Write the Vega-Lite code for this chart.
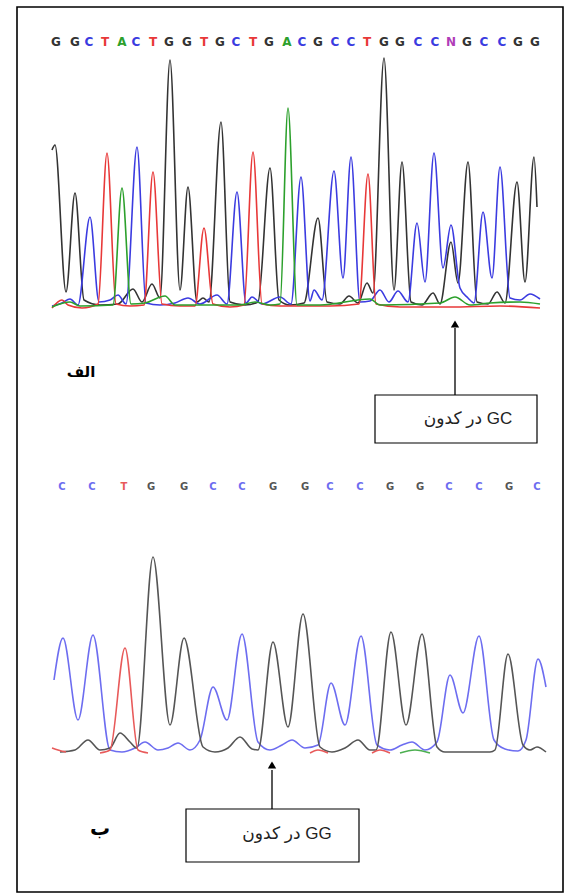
{
"$schema":"https://vega.github.io/schema/vega-lite/v6.json",
"width":570,"height":895,"padding":0,
"autosize":{"type":"fit","contains":"padding"},
"background":"white",
"config":{"view":{"stroke":null}},
"datasets":{
"frame":[{"x1":17,"y1":7,"x2":563,"y2":892}],
"traces":[
{"k":"G1","s":"G1","x":52,"y":150},{"k":"G1","s":"G1","x":55,"y":145},{"k":"G1","s":"G1","x":66,"y":292},{"k":"G1","s":"G1","x":75,"y":193},{"k":"G1","s":"G1","x":84,"y":300},{"k":"G1","s":"G1","x":100,"y":305},{"k":"G1","s":"G1","x":118,"y":304},{"k":"G1","s":"G1","x":133,"y":289},{"k":"G1","s":"G1","x":142,"y":302},{"k":"G1","s":"G1","x":152,"y":284},{"k":"G1","s":"G1","x":160,"y":298},{"k":"G1","s":"G1","x":170,"y":60},{"k":"G1","s":"G1","x":180,"y":290},{"k":"G1","s":"G1","x":188,"y":187},{"k":"G1","s":"G1","x":197,"y":302},{"k":"G1","s":"G1","x":203,"y":298},{"k":"G1","s":"G1","x":209,"y":302},{"k":"G1","s":"G1","x":221,"y":122},{"k":"G1","s":"G1","x":230,"y":302},{"k":"G1","s":"G1","x":245,"y":305},{"k":"G1","s":"G1","x":258,"y":302},{"k":"G1","s":"G1","x":270,"y":168},{"k":"G1","s":"G1","x":279,"y":300},{"k":"G1","s":"G1","x":290,"y":305},{"k":"G1","s":"G1","x":304,"y":303},{"k":"G1","s":"G1","x":318,"y":218},{"k":"G1","s":"G1","x":327,"y":302},{"k":"G1","s":"G1","x":340,"y":304},{"k":"G1","s":"G1","x":349,"y":296},{"k":"G1","s":"G1","x":358,"y":303},{"k":"G1","s":"G1","x":367,"y":283},{"k":"G1","s":"G1","x":373,"y":293},{"k":"G1","s":"G1","x":384,"y":58},{"k":"G1","s":"G1","x":394,"y":290},{"k":"G1","s":"G1","x":402,"y":162},{"k":"G1","s":"G1","x":411,"y":302},{"k":"G1","s":"G1","x":422,"y":305},{"k":"G1","s":"G1","x":433,"y":293},{"k":"G1","s":"G1","x":440,"y":304},{"k":"G1","s":"G1","x":451,"y":242},{"k":"G1","s":"G1","x":458,"y":283},{"k":"G1","s":"G1","x":468,"y":162},{"k":"G1","s":"G1","x":477,"y":302},{"k":"G1","s":"G1","x":488,"y":304},{"k":"G1","s":"G1","x":497,"y":292},{"k":"G1","s":"G1","x":505,"y":303},{"k":"G1","s":"G1","x":517,"y":182},{"k":"G1","s":"G1","x":525,"y":282},{"k":"G1","s":"G1","x":534,"y":157},{"k":"G1","s":"G1","x":537,"y":207},
{"k":"C1","s":"C1","x":52,"y":306},{"k":"C1","s":"C1","x":62,"y":303},{"k":"C1","s":"C1","x":70,"y":299},{"k":"C1","s":"C1","x":78,"y":305},{"k":"C1","s":"C1","x":90,"y":217},{"k":"C1","s":"C1","x":99,"y":302},{"k":"C1","s":"C1","x":110,"y":300},{"k":"C1","s":"C1","x":118,"y":295},{"k":"C1","s":"C1","x":126,"y":304},{"k":"C1","s":"C1","x":137,"y":147},{"k":"C1","s":"C1","x":146,"y":303},{"k":"C1","s":"C1","x":160,"y":305},{"k":"C1","s":"C1","x":175,"y":303},{"k":"C1","s":"C1","x":188,"y":298},{"k":"C1","s":"C1","x":200,"y":304},{"k":"C1","s":"C1","x":217,"y":295},{"k":"C1","s":"C1","x":227,"y":304},{"k":"C1","s":"C1","x":237,"y":192},{"k":"C1","s":"C1","x":246,"y":303},{"k":"C1","s":"C1","x":252,"y":297},{"k":"C1","s":"C1","x":262,"y":304},{"k":"C1","s":"C1","x":280,"y":297},{"k":"C1","s":"C1","x":291,"y":304},{"k":"C1","s":"C1","x":301,"y":177},{"k":"C1","s":"C1","x":310,"y":301},{"k":"C1","s":"C1","x":314,"y":290},{"k":"C1","s":"C1","x":322,"y":300},{"k":"C1","s":"C1","x":334,"y":171},{"k":"C1","s":"C1","x":343,"y":278},{"k":"C1","s":"C1","x":351,"y":157},{"k":"C1","s":"C1","x":360,"y":302},{"k":"C1","s":"C1","x":370,"y":301},{"k":"C1","s":"C1","x":380,"y":290},{"k":"C1","s":"C1","x":389,"y":302},{"k":"C1","s":"C1","x":398,"y":291},{"k":"C1","s":"C1","x":408,"y":302},{"k":"C1","s":"C1","x":417,"y":223},{"k":"C1","s":"C1","x":425,"y":282},{"k":"C1","s":"C1","x":434,"y":153},{"k":"C1","s":"C1","x":443,"y":268},{"k":"C1","s":"C1","x":451,"y":225},{"k":"C1","s":"C1","x":460,"y":288},{"k":"C1","s":"C1","x":468,"y":298},{"k":"C1","s":"C1","x":474,"y":303},{"k":"C1","s":"C1","x":483,"y":212},{"k":"C1","s":"C1","x":492,"y":278},{"k":"C1","s":"C1","x":500,"y":167},{"k":"C1","s":"C1","x":510,"y":298},{"k":"C1","s":"C1","x":520,"y":300},{"k":"C1","s":"C1","x":530,"y":294},{"k":"C1","s":"C1","x":540,"y":299},
{"k":"T1","s":"T1","x":52,"y":308},{"k":"T1","s":"T1","x":62,"y":300},{"k":"T1","s":"T1","x":68,"y":305},{"k":"T1","s":"T1","x":82,"y":308},{"k":"T1","s":"T1","x":98,"y":304},{"k":"T1","s":"T1","x":107,"y":153},{"k":"T1","s":"T1","x":116,"y":304},{"k":"T1","s":"T1","x":130,"y":306},{"k":"T1","s":"T1","x":144,"y":305},{"k":"T1","s":"T1","x":153,"y":172},{"k":"T1","s":"T1","x":162,"y":304},{"k":"T1","s":"T1","x":180,"y":306},{"k":"T1","s":"T1","x":195,"y":306},{"k":"T1","s":"T1","x":204,"y":228},{"k":"T1","s":"T1","x":213,"y":304},{"k":"T1","s":"T1","x":230,"y":307},{"k":"T1","s":"T1","x":244,"y":305},{"k":"T1","s":"T1","x":253,"y":152},{"k":"T1","s":"T1","x":262,"y":304},{"k":"T1","s":"T1","x":280,"y":306},{"k":"T1","s":"T1","x":300,"y":306},{"k":"T1","s":"T1","x":330,"y":306},{"k":"T1","s":"T1","x":359,"y":304},{"k":"T1","s":"T1","x":368,"y":174},{"k":"T1","s":"T1","x":376,"y":304},{"k":"T1","s":"T1","x":400,"y":307},{"k":"T1","s":"T1","x":450,"y":307},{"k":"T1","s":"T1","x":500,"y":306},{"k":"T1","s":"T1","x":540,"y":308},
{"k":"A1","s":"A1","x":52,"y":307},{"k":"A1","s":"A1","x":70,"y":302},{"k":"A1","s":"A1","x":80,"y":306},{"k":"A1","s":"A1","x":113,"y":305},{"k":"A1","s":"A1","x":122,"y":188},{"k":"A1","s":"A1","x":131,"y":304},{"k":"A1","s":"A1","x":145,"y":303},{"k":"A1","s":"A1","x":165,"y":296},{"k":"A1","s":"A1","x":175,"y":305},{"k":"A1","s":"A1","x":240,"y":305},{"k":"A1","s":"A1","x":255,"y":302},{"k":"A1","s":"A1","x":270,"y":305},{"k":"A1","s":"A1","x":280,"y":304},{"k":"A1","s":"A1","x":288,"y":108},{"k":"A1","s":"A1","x":297,"y":305},{"k":"A1","s":"A1","x":320,"y":305},{"k":"A1","s":"A1","x":370,"y":299},{"k":"A1","s":"A1","x":380,"y":305},{"k":"A1","s":"A1","x":440,"y":303},{"k":"A1","s":"A1","x":455,"y":297},{"k":"A1","s":"A1","x":470,"y":305},{"k":"A1","s":"A1","x":490,"y":303},{"k":"A1","s":"A1","x":520,"y":302},{"k":"A1","s":"A1","x":540,"y":304},
{"k":"C2","s":"C2","x":54,"y":680},{"k":"C2","s":"C2","x":63,"y":638},{"k":"C2","s":"C2","x":78,"y":720},{"k":"C2","s":"C2","x":93,"y":635},{"k":"C2","s":"C2","x":110,"y":750},{"k":"C2","s":"C2","x":122,"y":752},{"k":"C2","s":"C2","x":135,"y":748},{"k":"C2","s":"C2","x":145,"y":742},{"k":"C2","s":"C2","x":158,"y":750},{"k":"C2","s":"C2","x":168,"y":748},{"k":"C2","s":"C2","x":178,"y":743},{"k":"C2","s":"C2","x":190,"y":750},{"k":"C2","s":"C2","x":200,"y":740},{"k":"C2","s":"C2","x":213,"y":687},{"k":"C2","s":"C2","x":227,"y":720},{"k":"C2","s":"C2","x":242,"y":634},{"k":"C2","s":"C2","x":258,"y":742},{"k":"C2","s":"C2","x":270,"y":750},{"k":"C2","s":"C2","x":282,"y":745},{"k":"C2","s":"C2","x":292,"y":740},{"k":"C2","s":"C2","x":305,"y":748},{"k":"C2","s":"C2","x":318,"y":745},{"k":"C2","s":"C2","x":331,"y":683},{"k":"C2","s":"C2","x":345,"y":725},{"k":"C2","s":"C2","x":361,"y":636},{"k":"C2","s":"C2","x":377,"y":745},{"k":"C2","s":"C2","x":390,"y":750},{"k":"C2","s":"C2","x":402,"y":745},{"k":"C2","s":"C2","x":412,"y":742},{"k":"C2","s":"C2","x":425,"y":750},{"k":"C2","s":"C2","x":437,"y":742},{"k":"C2","s":"C2","x":450,"y":675},{"k":"C2","s":"C2","x":463,"y":713},{"k":"C2","s":"C2","x":479,"y":636},{"k":"C2","s":"C2","x":494,"y":740},{"k":"C2","s":"C2","x":505,"y":749},{"k":"C2","s":"C2","x":518,"y":751},{"k":"C2","s":"C2","x":526,"y":740},{"k":"C2","s":"C2","x":538,"y":659},{"k":"C2","s":"C2","x":546,"y":687},
{"k":"G2","s":"G2","x":60,"y":752},{"k":"G2","s":"G2","x":75,"y":750},{"k":"G2","s":"G2","x":88,"y":740},{"k":"G2","s":"G2","x":100,"y":750},{"k":"G2","s":"G2","x":110,"y":748},{"k":"G2","s":"G2","x":120,"y":733},{"k":"G2","s":"G2","x":130,"y":742},{"k":"G2","s":"G2","x":137,"y":748},{"k":"G2","s":"G2","x":153,"y":557},{"k":"G2","s":"G2","x":170,"y":725},{"k":"G2","s":"G2","x":184,"y":638},{"k":"G2","s":"G2","x":203,"y":747},{"k":"G2","s":"G2","x":215,"y":752},{"k":"G2","s":"G2","x":228,"y":748},{"k":"G2","s":"G2","x":240,"y":737},{"k":"G2","s":"G2","x":252,"y":749},{"k":"G2","s":"G2","x":258,"y":750},{"k":"G2","s":"G2","x":273,"y":642},{"k":"G2","s":"G2","x":288,"y":727},{"k":"G2","s":"G2","x":303,"y":614},{"k":"G2","s":"G2","x":320,"y":747},{"k":"G2","s":"G2","x":332,"y":752},{"k":"G2","s":"G2","x":345,"y":748},{"k":"G2","s":"G2","x":358,"y":740},{"k":"G2","s":"G2","x":370,"y":750},{"k":"G2","s":"G2","x":376,"y":750},{"k":"G2","s":"G2","x":391,"y":632},{"k":"G2","s":"G2","x":406,"y":725},{"k":"G2","s":"G2","x":422,"y":634},{"k":"G2","s":"G2","x":437,"y":747},{"k":"G2","s":"G2","x":445,"y":752},{"k":"G2","s":"G2","x":490,"y":752},{"k":"G2","s":"G2","x":495,"y":750},{"k":"G2","s":"G2","x":508,"y":654},{"k":"G2","s":"G2","x":523,"y":745},{"k":"G2","s":"G2","x":530,"y":750},{"k":"G2","s":"G2","x":537,"y":747},{"k":"G2","s":"G2","x":546,"y":752},
{"k":"T2","s":"T2a","x":52,"y":748},{"k":"T2","s":"T2a","x":58,"y":750},{"k":"T2","s":"T2a","x":66,"y":752},
{"k":"T2","s":"T2b","x":100,"y":753},{"k":"T2","s":"T2b","x":110,"y":750},{"k":"T2","s":"T2b","x":125,"y":648},{"k":"T2","s":"T2b","x":138,"y":750},{"k":"T2","s":"T2b","x":148,"y":753},
{"k":"T2","s":"T2c","x":310,"y":753},{"k":"T2","s":"T2c","x":318,"y":750},{"k":"T2","s":"T2c","x":328,"y":753},
{"k":"T2","s":"T2d","x":372,"y":753},{"k":"T2","s":"T2d","x":380,"y":750},{"k":"T2","s":"T2d","x":390,"y":753},
{"k":"A2","s":"A2a","x":400,"y":753},{"k":"A2","s":"A2a","x":415,"y":750},{"k":"A2","s":"A2a","x":430,"y":753}
],
"letters":[
{"p":"top","k":"G1","b":"G","x":56,"y":42},{"p":"top","k":"G1","b":"G","x":75,"y":42},{"p":"top","k":"C1","b":"C","x":89,"y":42},{"p":"top","k":"T1","b":"T","x":105,"y":42},{"p":"top","k":"A1","b":"A","x":122,"y":42},{"p":"top","k":"C1","b":"C","x":136,"y":42},{"p":"top","k":"T1","b":"T","x":153,"y":42},{"p":"top","k":"G1","b":"G","x":169,"y":42},{"p":"top","k":"G1","b":"G","x":187,"y":42},{"p":"top","k":"T1","b":"T","x":204,"y":42},{"p":"top","k":"G1","b":"G","x":220,"y":42},{"p":"top","k":"C1","b":"C","x":236,"y":42},{"p":"top","k":"T1","b":"T","x":253,"y":42},{"p":"top","k":"G1","b":"G","x":269,"y":42},{"p":"top","k":"A1","b":"A","x":287,"y":42},{"p":"top","k":"C1","b":"C","x":302,"y":42},{"p":"top","k":"G1","b":"G","x":318,"y":42},{"p":"top","k":"C1","b":"C","x":335,"y":42},{"p":"top","k":"C1","b":"C","x":351,"y":42},{"p":"top","k":"T1","b":"T","x":367,"y":42},{"p":"top","k":"G1","b":"G","x":384,"y":42},{"p":"top","k":"G1","b":"G","x":400,"y":42},{"p":"top","k":"C1","b":"C","x":418,"y":42},{"p":"top","k":"C1","b":"C","x":435,"y":42},{"p":"top","k":"N1","b":"N","x":451,"y":42},{"p":"top","k":"G1","b":"G","x":467,"y":42},{"p":"top","k":"C1","b":"C","x":484,"y":42},{"p":"top","k":"C1","b":"C","x":502,"y":42},{"p":"top","k":"G1","b":"G","x":518,"y":42},{"p":"top","k":"G1","b":"G","x":535,"y":42},
{"p":"bot","k":"C2","b":"C","x":62,"y":487},{"p":"bot","k":"C2","b":"C","x":92,"y":487},{"p":"bot","k":"T2","b":"T","x":124,"y":487},{"p":"bot","k":"G2","b":"G","x":151,"y":487},{"p":"bot","k":"G2","b":"G","x":184,"y":487},{"p":"bot","k":"C2","b":"C","x":213,"y":487},{"p":"bot","k":"C2","b":"C","x":242,"y":487},{"p":"bot","k":"G2","b":"G","x":273,"y":487},{"p":"bot","k":"G2","b":"G","x":305,"y":487},{"p":"bot","k":"C2","b":"C","x":330,"y":487},{"p":"bot","k":"C2","b":"C","x":360,"y":487},{"p":"bot","k":"G2","b":"G","x":390,"y":487},{"p":"bot","k":"G2","b":"G","x":420,"y":487},{"p":"bot","k":"C2","b":"C","x":449,"y":487},{"p":"bot","k":"C2","b":"C","x":479,"y":487},{"p":"bot","k":"G2","b":"G","x":509,"y":487},{"p":"bot","k":"C2","b":"C","x":537,"y":487}
],
"arrows":[{"x":455,"y1":395,"y2":328,"ty":324},{"x":272,"y1":809,"y2":770,"ty":765}],
"boxes":[{"x1":375,"y1":395,"x2":537,"y2":443,"tx":468,"ty":419,"t":"\u202BGC در کدون\u202C"},{"x1":186,"y1":809,"x2":359,"y2":862,"tx":287,"ty":834,"t":"\u202BGG در کدون\u202C"}],
"labels":[{"x":81,"y":372,"t":"الف","f":"a"},{"x":100,"y":829,"t":"ب","f":"b"}]
},
"layer":[
{"data":{"name":"frame"},"mark":{"type":"rect","fill":null,"stroke":"#000","strokeWidth":1.6},
 "encoding":{"x":{"field":"x1","type":"quantitative","scale":{"domain":[0,570],"nice":false,"zero":false},"axis":null},"x2":{"field":"x2"},
 "y":{"field":"y1","type":"quantitative","scale":{"domain":[0,895],"nice":false,"zero":false,"reverse":true},"axis":null},"y2":{"field":"y2"}}},
{"data":{"name":"traces"},"mark":{"type":"line","interpolate":"monotone","strokeWidth":1.6},
 "encoding":{"x":{"field":"x","type":"quantitative","axis":null},"y":{"field":"y","type":"quantitative","axis":null},
 "color":{"field":"k","type":"nominal","legend":null,"scale":{"domain":["G1","C1","T1","A1","N1","G2","C2","T2","A2"],"range":["#333333","#3b3be0","#e83838","#2ca02c","#b03cb8","#555555","#6d6df0","#e85a5a","#4caf50"]}},
 "detail":{"field":"s","type":"nominal"}}},
{"data":{"name":"letters"},"transform":[{"filter":"datum.p=='top'"}],"mark":{"type":"text","font":"DejaVu Sans","fontWeight":"bold","fontSize":12,"baseline":"middle","align":"center"},
 "encoding":{"x":{"field":"x","type":"quantitative","axis":null},"y":{"field":"y","type":"quantitative","axis":null},"text":{"field":"b"},"color":{"field":"k","type":"nominal","legend":null}}},
{"data":{"name":"letters"},"transform":[{"filter":"datum.p=='bot'"}],"mark":{"type":"text","font":"DejaVu Sans","fontWeight":"bold","fontSize":10,"baseline":"middle","align":"center"},
 "encoding":{"x":{"field":"x","type":"quantitative","axis":null},"y":{"field":"y","type":"quantitative","axis":null},"text":{"field":"b"},"color":{"field":"k","type":"nominal","legend":null}}},
{"data":{"name":"arrows"},"mark":{"type":"rule","color":"#000","strokeWidth":1.3},
 "encoding":{"x":{"field":"x","type":"quantitative","axis":null},"y":{"field":"y1","type":"quantitative","axis":null},"y2":{"field":"y2"}}},
{"data":{"name":"arrows"},"mark":{"type":"point","shape":"triangle-up","filled":true,"color":"#000","size":70,"opacity":1},
 "encoding":{"x":{"field":"x","type":"quantitative","axis":null},"y":{"field":"ty","type":"quantitative","axis":null}}},
{"data":{"name":"boxes"},"mark":{"type":"rect","fill":"white","stroke":"#000","strokeWidth":1.2},
 "encoding":{"x":{"field":"x1","type":"quantitative","axis":null},"x2":{"field":"x2"},"y":{"field":"y1","type":"quantitative","axis":null},"y2":{"field":"y2"}}},
{"data":{"name":"boxes"},"mark":{"type":"text","font":"Liberation Sans, DejaVu Sans","fontSize":17,"color":"#222","baseline":"middle","align":"center"},
 "encoding":{"x":{"field":"tx","type":"quantitative","axis":null},"y":{"field":"ty","type":"quantitative","axis":null},"text":{"field":"t"}}},
{"data":{"name":"labels"},"transform":[{"filter":"datum.f=='a'"}],"mark":{"type":"text","font":"DejaVu Sans","fontWeight":"bold","fontSize":15,"color":"#000","baseline":"middle","align":"center"},
 "encoding":{"x":{"field":"x","type":"quantitative","axis":null},"y":{"field":"y","type":"quantitative","axis":null},"text":{"field":"t"}}},
{"data":{"name":"labels"},"transform":[{"filter":"datum.f=='b'"}],"mark":{"type":"text","font":"DejaVu Sans","fontWeight":"bold","fontSize":20,"color":"#000","baseline":"middle","align":"center"},
 "encoding":{"x":{"field":"x","type":"quantitative","axis":null},"y":{"field":"y","type":"quantitative","axis":null},"text":{"field":"t"}}}
]
}
